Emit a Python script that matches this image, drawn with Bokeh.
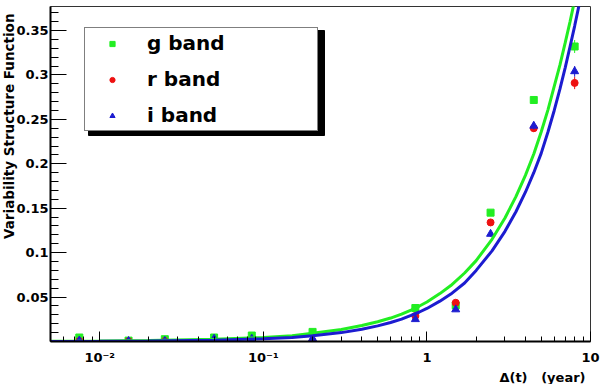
from bokeh.plotting import figure
from bokeh.models import (FixedTicker, NumeralTickFormatter, Title, Legend, LegendItem,
                          Range1d, BoxAnnotation)
from bokeh.embed import file_html
from bokeh.resources import INLINE

# ---- data ----
dt = [0.0075, 0.015, 0.025, 0.05, 0.085, 0.20, 0.85, 1.5, 2.45, 4.5, 8.0]
sf_g = [0.0045, 0.0010, 0.0026, 0.0045, 0.0067, 0.0108, 0.0377, 0.0406, 0.1450, 0.2718, 0.3320]
err_g = [0.0010, 0.0010, 0.0010, 0.0010, 0.0010, 0.0010, 0.0015, 0.0020, 0.0030, 0.0040, 0.0073]
sf_r = [0.0005, 0.0003, 0.0005, 0.0005, 0.0015, 0.0003, 0.0287, 0.0436, 0.1340, 0.2400, 0.2910]
err_r = [0.0010, 0.0010, 0.0010, 0.0010, 0.0010, 0.0010, 0.0015, 0.0020, 0.0030, 0.0040, 0.0070]
sf_i = [0.0010, 0.0005, 0.0005, 0.0030, 0.0030, 0.0034, 0.0250, 0.0360, 0.1210, 0.2427, 0.3040]
err_i = [0.0010, 0.0010, 0.0010, 0.0010, 0.0010, 0.0010, 0.0015, 0.0020, 0.0030, 0.0040, 0.0060]

# fitted curves
fit_t = [0.005, 0.01, 0.02, 0.05, 0.1, 0.15, 0.2, 0.3, 0.4, 0.5, 0.6, 0.7, 0.8, 0.9, 1.0,
         1.2, 1.4, 1.7, 2.0, 2.5, 3.0, 3.5, 4.0, 4.5, 5.0, 5.5, 6.0, 6.5, 7.0, 7.5, 8.0, 8.5, 9.0]
fit_g = [0.0002, 0.0005, 0.0010, 0.0024, 0.0046, 0.0066, 0.0092, 0.0135, 0.0180, 0.0222,
         0.0264, 0.0308, 0.0354, 0.0399, 0.0445, 0.0539, 0.0630, 0.0771, 0.0910, 0.1150,
         0.1390, 0.1630, 0.1870, 0.2110, 0.2360, 0.2610, 0.2870, 0.3110, 0.3360, 0.3600,
         0.3840, 0.4080, 0.4320]
fit_i = [0.0001, 0.0003, 0.0006, 0.0015, 0.0031, 0.0046, 0.0064, 0.0100, 0.0138, 0.0176,
         0.0214, 0.0252, 0.0293, 0.0332, 0.0372, 0.0454, 0.0534, 0.0658, 0.0800, 0.1020,
         0.1240, 0.1460, 0.1680, 0.1900, 0.2120, 0.2360, 0.2600, 0.2840, 0.3080, 0.3320,
         0.3550, 0.3780, 0.4020]

y_major = [0.05, 0.10, 0.15, 0.20, 0.25, 0.30, 0.35]
y_minor = [k / 100 for k in range(1, 38)]
x_major = [0.01, 0.1, 1, 10]
x_minor = [m * d for d in (0.001, 0.01, 0.1, 1) for m in range(2, 10) if m * d >= 0.005]
x_tick_labels = {0.01: "10\u207b\u00b2", 0.1: "10\u207b\u00b9", 1: "1", 10: "10"}
band_labels = ["g band", "r band", "i band"]
x_title = "\u0394(t)\u00a0\u00a0\u00a0(year)"
y_title = "Variability Structure Function"

GREEN = "#22ee22"
RED = "#ee1111"
BLUE = "#1c1cd0"
FONT = "DejaVu Sans"

p = figure(width=600, height=384, x_axis_type="log",
           x_range=Range1d(0.005, 10), y_range=Range1d(0, 0.377),
           output_backend="svg", toolbar_location=None, title=None,
           min_border_left=50, min_border_right=10, min_border_top=6, min_border_bottom=41)
p.xgrid.visible = False
p.ygrid.visible = False
p.outline_line_color = "#333333"
p.outline_line_width = 1
p.background_fill_color = "white"
p.border_fill_color = "white"

# y axis
ya = p.yaxis[0]
ya.ticker = FixedTicker(ticks=y_major, minor_ticks=y_minor)
ya.formatter = NumeralTickFormatter(format="0.[00]")
ya.major_tick_in = 16
ya.major_tick_out = 0
ya.minor_tick_in = 8
ya.minor_tick_out = 0
ya.axis_line_width = 2
ya.axis_line_color = "black"
ya.major_label_standoff = 2
ya.major_label_text_font = FONT
ya.major_label_text_font_style = "bold"
ya.major_label_text_font_size = "13px"
ya.major_label_text_color = "black"

# x axis
xa = p.xaxis[0]
xa.ticker = FixedTicker(ticks=x_major, minor_ticks=x_minor)
xa.major_label_overrides = x_tick_labels
xa.major_tick_in = 10
xa.major_tick_out = 0
xa.minor_tick_in = 5
xa.minor_tick_out = 0
xa.axis_line_width = 2
xa.axis_line_color = "black"
xa.major_label_standoff = 8
xa.major_label_text_font = FONT
xa.major_label_text_font_style = "bold"
xa.major_label_text_font_size = "13px"
xa.major_label_text_color = "black"

# axis titles (ROOT style: aligned to the axis end)
p.add_layout(Title(text=x_title, align="right", standoff=0, offset=5,
                   text_font=FONT, text_font_style="bold", text_font_size="13px",
                   text_color="black"), "below")
p.add_layout(Title(text=y_title, align="right", standoff=-7, offset=7,
                   text_font=FONT, text_font_style="bold", text_font_size="13.5px",
                   text_color="black"), "left")

# points with error bars
series = [(sf_g, err_g, GREEN, "square", 7), (sf_r, err_r, RED, "circle", 7),
          (sf_i, err_i, BLUE, "triangle", 8)]
point_renderers = []
for vals, errs, col, mk, sz in series:
    lo = [v - e for v, e in zip(vals, errs)]
    hi = [v + e for v, e in zip(vals, errs)]
    p.segment(x0=dt, y0=lo, x1=dt, y1=hi, line_color=col, line_width=1)
    r = p.scatter(x=dt, y=vals, marker=mk, size=sz, fill_color=col, line_color=col)
    point_renderers.append(r)

# fit curves
p.line(x=fit_t, y=fit_g, line_color=GREEN, line_width=3)
p.line(x=fit_t, y=fit_i, line_color=BLUE, line_width=3)

# legend with ROOT-like drop shadow
p.add_layout(BoxAnnotation(left=38, right=274, bottom=206, top=311,
                           left_units="screen", right_units="screen",
                           bottom_units="screen", top_units="screen",
                           fill_color="black", fill_alpha=1.0, line_color="black",
                           line_alpha=1.0), "center")
items = [LegendItem(label=lab, renderers=[r]) for lab, r in zip(band_labels, point_renderers)]
p.add_layout(Legend(items=items, location=(34, 210), orientation="vertical",
                    glyph_width=48, glyph_height=13, label_height=24, label_width=167,
                    spacing=12, padding=3, margin=0, label_standoff=11,
                    label_text_font=FONT, label_text_font_style="bold",
                    label_text_font_size="20px", label_text_color="black",
                    border_line_color="black", border_line_width=1,
                    background_fill_color="white", background_fill_alpha=1.0), "center")

open("out.html", "w").write(file_html(p, INLINE))
